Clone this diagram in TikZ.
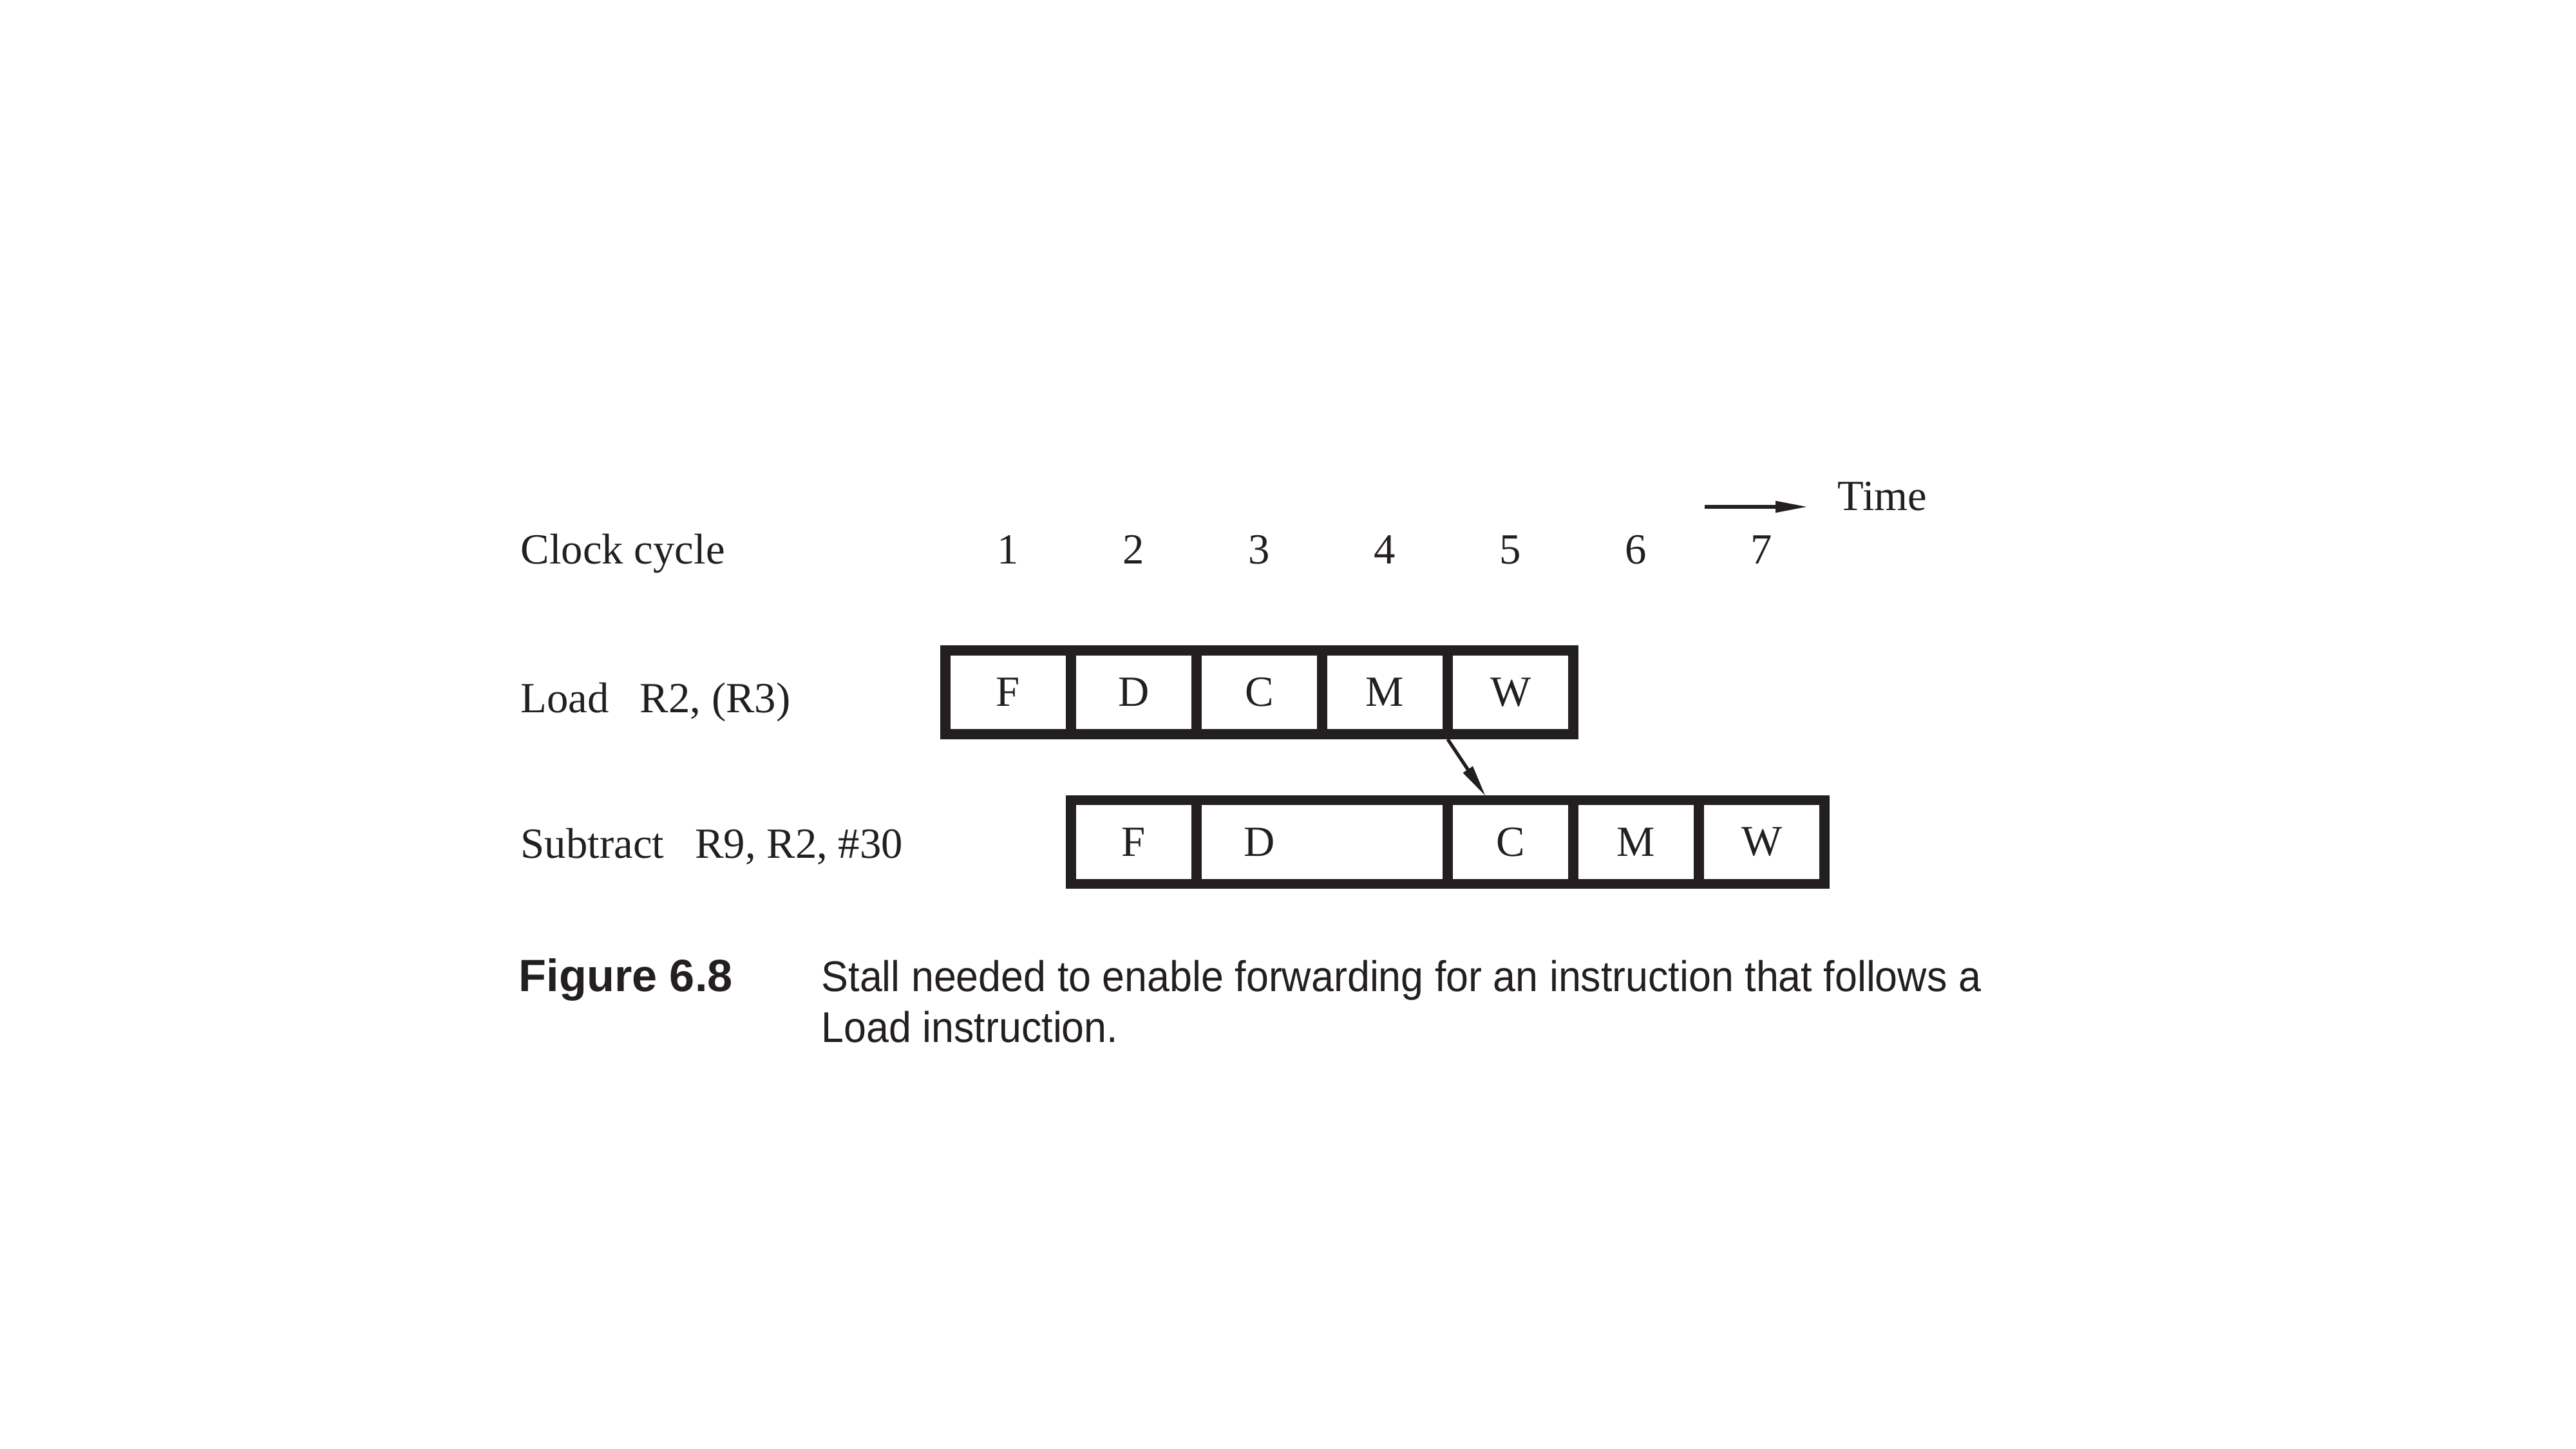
\documentclass[tikz,border=0pt]{standalone}
\usepackage{fontspec}
\setmainfont{Liberation Serif}
\newfontfamily\capfont[FakeStretch=0.94]{Liberation Sans}
\newfontfamily\fignofont{Liberation Sans}
\usetikzlibrary{positioning,arrows.meta}
\definecolor{ink}{HTML}{231F20}
\newcommand{\opgap}{\hspace{0.48cm}}

\begin{document}
\begin{tikzpicture}[
    node distance=0pt,
    % Styles
    stage/.style={draw=ink, text=ink, line width=4.5pt, minimum width=1.95cm, minimum height=1.3cm, inner sep=0pt, outer sep=0pt, font=\fontsize{19}{23}\selectfont},
    txt/.style={text=ink, inner sep=0pt, anchor=base west, font=\fontsize{19}{23}\selectfont},
    fwd-arrow/.style={-{Triangle[length=0.5cm,width=0.17cm]}, line width=1.5pt, ink},
    captxt/.style={text=ink, inner sep=0pt, anchor=base west, font=\capfont\fontsize{19}{23}\selectfont},
]

% Page frame
\useasboundingbox (0,0) rectangle (40,22.5);

% Clock cycles
\node[txt] (clk) at (8.08,13.74) {Clock cycle};
\foreach \i in {1,...,7}
    \node[txt, anchor=base] (c\i) at ({15.655+1.95*(\i-1)},13.74) {\i};

% Time arrow
\node[txt] (time) at (28.53,14.57) {Time};
\coordinate (tstart) at (26.47,14.63);
\draw[fwd-arrow, shorten >=0.46cm] (tstart) -- (tstart -| time.west);

% Load R2, (R3)
\node[txt] (ldlbl) at (8.08,11.43) {Load\opgap R2, (R3)};
\node[stage] (ldF) at (15.655,11.75) {F};
\node[stage, right=of ldF] (ldD) {D};
\node[stage, right=of ldD] (ldC) {C};
\node[stage, right=of ldC] (ldM) {M};
\node[stage, right=of ldM] (ldW) {W};

% Subtract R9, R2, #30 (stalled decode)
\node[txt] (sblbl) at (8.08,9.17) {Subtract\opgap R9, R2, \#30};
\node[stage] (sbF) at (17.605,9.425) {F};
\node[stage, right=of sbF, minimum width=3.9cm] (sbD) {D\hspace{1.95cm}\null};
\node[stage, right=of sbD] (sbC) {C};
\node[stage, right=of sbC] (sbM) {M};
\node[stage, right=of sbM] (sbW) {W};

% Forwarding
\draw[fwd-arrow] ([yshift=-0.08cm]ldW.south west) -- ([xshift=0.59cm,yshift=0.06cm]sbC.north west);

% Caption
\node[text=ink, inner sep=0pt, anchor=base west, font=\fignofont\bfseries\fontsize{20}{24}\selectfont] (figno) at (8.05,7.10) {Figure 6.8};
\node[captxt] (cap1) at (12.75,7.10) {Stall needed to enable forwarding for an instruction that follows a};
\node[captxt] (cap2) at (12.75,6.31) {Load instruction.};

\end{tikzpicture}
\end{document}
